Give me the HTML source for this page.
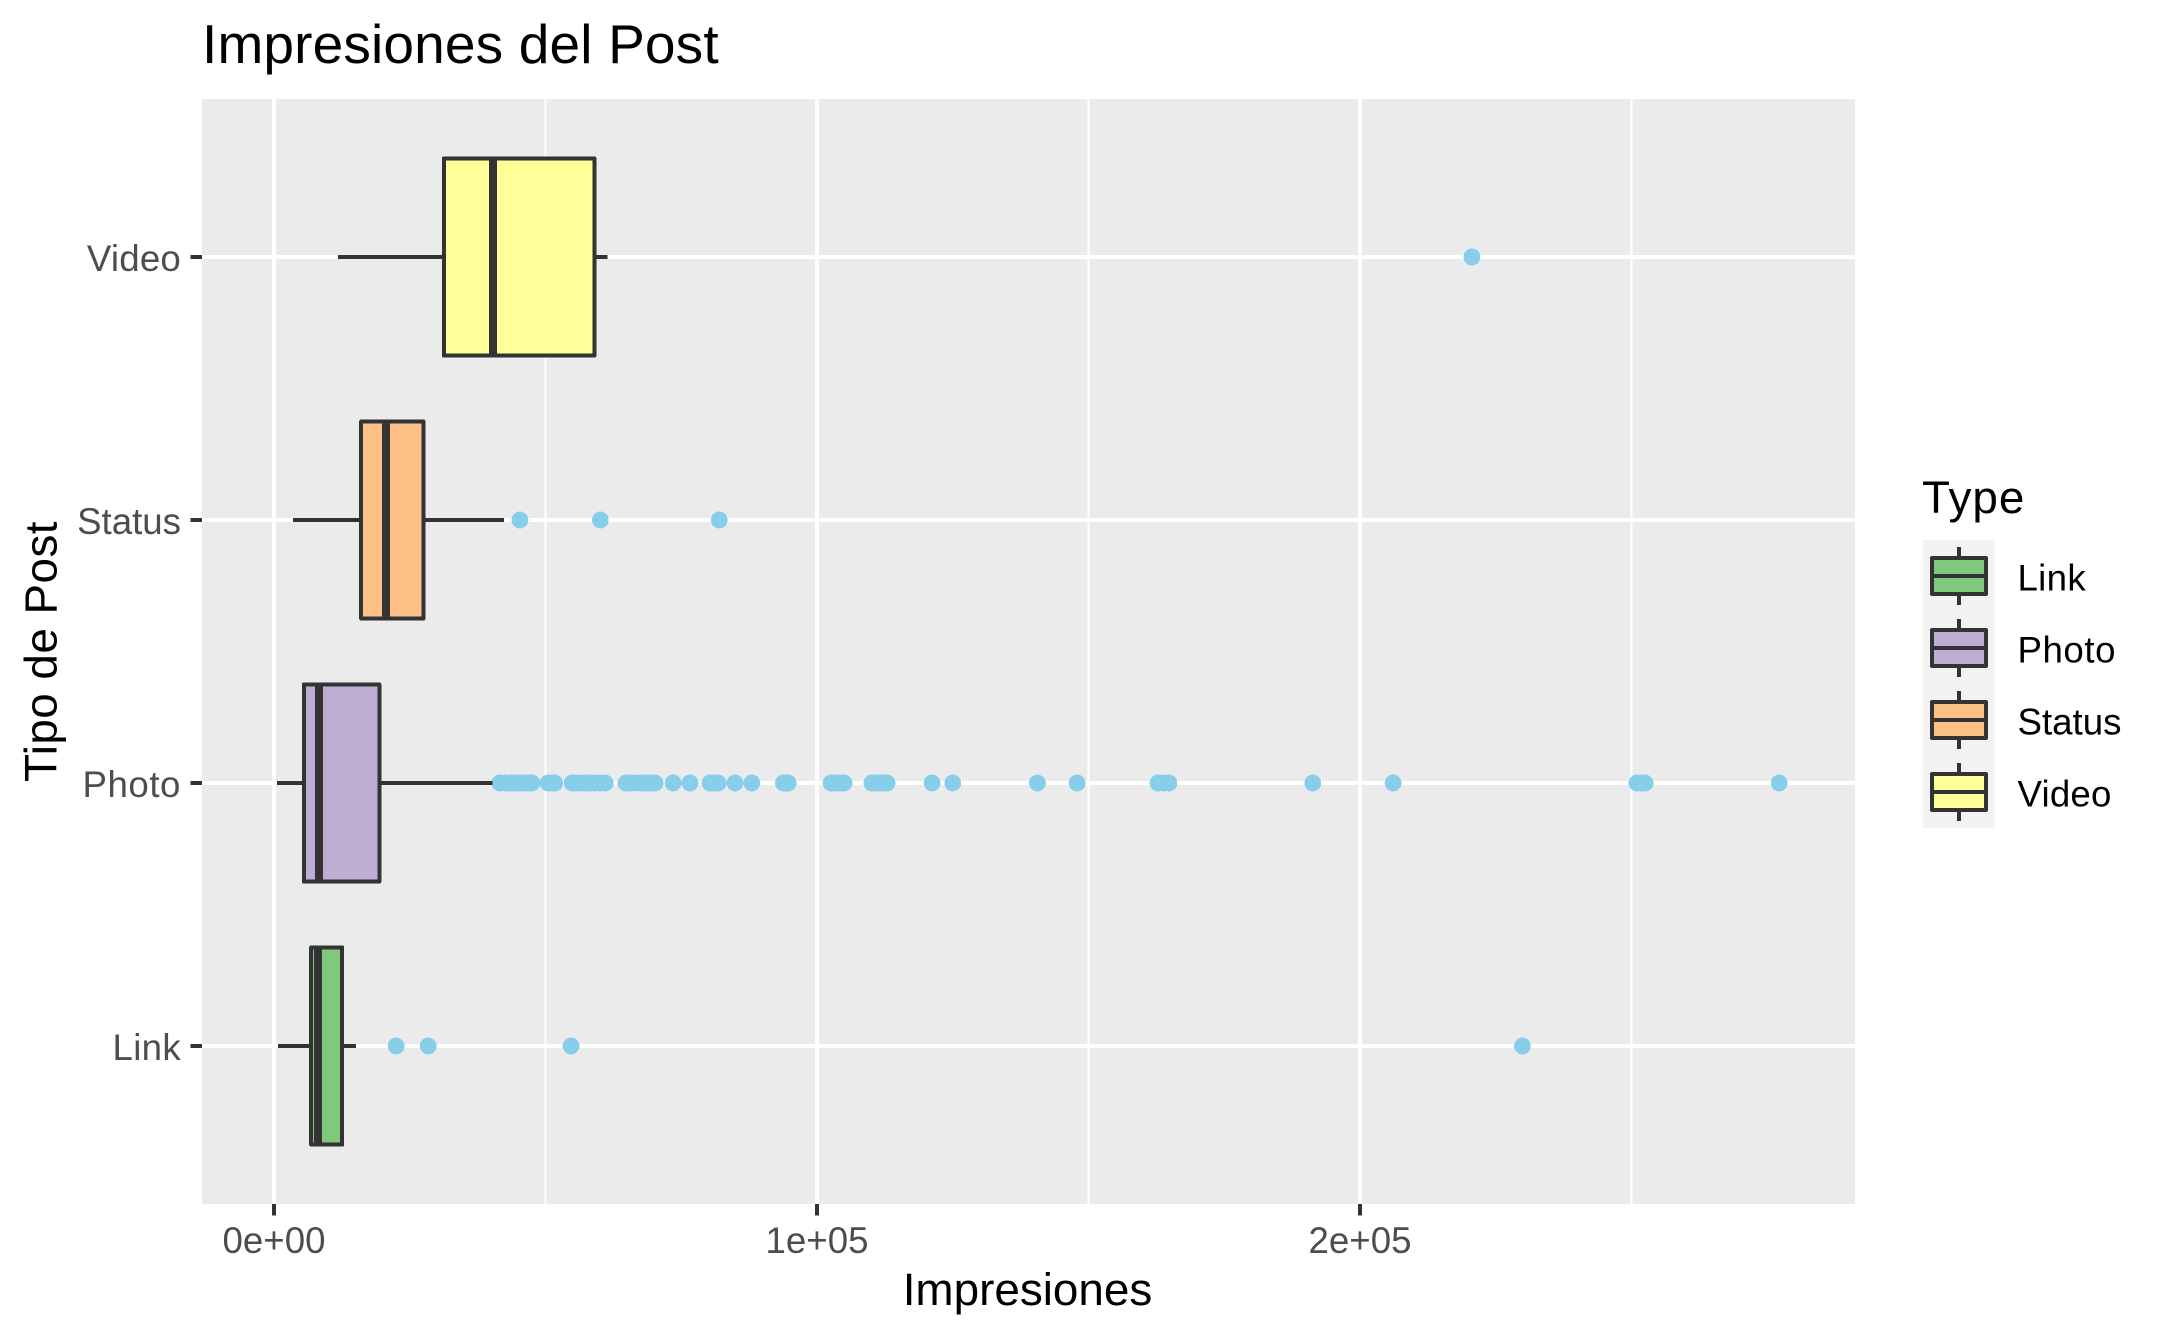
<!DOCTYPE html>
<html lang="es">
<head>
<meta charset="utf-8">
<title>Impresiones del Post</title>
<style>
html,body{margin:0;padding:0;background:#fff;width:2168px;height:1337px;overflow:hidden}
svg{display:block}
text{font-family:"Liberation Sans",Arial,sans-serif}
.crisp{shape-rendering:crispEdges}
</style>
</head>
<body>
<svg id="chart" xmlns="http://www.w3.org/2000/svg" width="2168" height="1337" viewBox="0 0 2168 1337">
  <rect x="0" y="0" width="2168" height="1337" fill="#ffffff"/>
  <text x="202" y="63" font-size="55" letter-spacing="0.16" fill="#000000">Impresiones del Post</text>
  <rect class="crisp" x="202" y="99" width="1653" height="1105" fill="#EBEBEB"/>
  <g id="grid" class="crisp"></g>
  <g id="series"></g>
  <g id="axes"></g>
  <text x="1027.5" y="1305" font-size="45.83" fill="#000000" text-anchor="middle">Impresiones</text>
  <text x="0" y="0" transform="translate(56.5 651.5) rotate(-90)" font-size="45.83" letter-spacing="0.45" fill="#000000" text-anchor="middle">Tipo de Post</text>
  <g id="legend">
    <text x="1922" y="513" font-size="45.83" letter-spacing="1" fill="#000000">Type</text>
  </g>
</svg>
<script>
var categories = ['Link', 'Photo', 'Status', 'Video'];
var whiskerLow = [770, 550, 3500, 11800];
var quartile1 = [6850, 5490, 16060, 31300];
var medians = [8140, 8300, 20660, 40350];
var quartile3 = [12560, 19400, 27500, 59000];
var whiskerHigh = [15140, 40200, 42400, 61400];
var outliersLink = [22500, 28400, 54700, 229900];
var outliersPhoto = [41600, 42500, 43500, 44200, 45100, 46000, 46800, 47500, 50500, 51200, 51700, 54900, 55600, 56400, 57500, 58200, 59100, 60000, 61000, 64800, 65700, 66900, 67800, 68700, 69400, 70200, 73500, 76600, 80300, 81000, 81800, 84900, 88000, 93800, 94300, 94700, 102600, 103500, 104200, 105000, 110100, 110900, 111600, 112300, 112900, 121200, 125000, 140600, 147900, 162800, 163800, 164800, 191300, 206100, 251000, 251800, 252500, 277200];
var outliersStatus = [45300, 60100, 82000];
var outliersVideo = [220600];
var xMajorTicks = [0, 100000, 200000];
var xMinorTicks = [50000, 150000, 250000];
var xTickLabels = ['0e+00', '1e+05', '2e+05'];

var allOutliers = [outliersLink, outliersPhoto, outliersStatus, outliersVideo];
var boxFills = ['#7FC97F', '#BEAED4', '#FDC086', '#FFFF99'];
var labelTracking = [0.3, 0.55, 0, 0.2];

var NS = 'http://www.w3.org/2000/svg';
var INK = '#333333';
var BOX_HALF = 98.6;

function xScale(v) { return 274 + v / 100000 * 543; }
function yScale(i) { return 1046 - 263 * i; }

function make(parent, tag, props, text) {
  var el = document.createElementNS(NS, tag);
  for (var k in props) { el.setAttribute(k, props[k]); }
  if (text !== undefined) { el.textContent = text; }
  parent.appendChild(el);
  return el;
}

var grid = document.getElementById('grid');
var series = document.getElementById('series');
var axes = document.getElementById('axes');
var legend = document.getElementById('legend');

xMinorTicks.forEach(function (t) {
  var el = make(grid, 'line', { x1: xScale(t), x2: xScale(t), y1: 99, y2: 1204, stroke: '#ffffff', 'stroke-width': 2 });
  
  
});
xMajorTicks.forEach(function (t, i) {
  var el = make(grid, 'line', { x1: xScale(t), x2: xScale(t), y1: 99, y2: 1204, stroke: '#ffffff', 'stroke-width': 4 });
  
  

  var tick = make(axes, 'line', { x1: xScale(t), x2: xScale(t), y1: 1204, y2: 1215.5, stroke: INK, 'stroke-width': 4, 'class': 'crisp' });
  
  

  var label = make(axes, 'text', { x: xScale(t), y: 1253, 'font-size': 36.67, fill: '#4D4D4D', 'text-anchor': 'middle' }, xTickLabels[i]);
  
  
});

categories.forEach(function (name, i) {
  var y = yScale(i);

  var gl = make(grid, 'line', { x1: 202, x2: 1855, y1: y, y2: y, stroke: '#ffffff', 'stroke-width': 4 });
  
  

  var tick = make(axes, 'line', { x1: 190.5, x2: 202, y1: y, y2: y, stroke: INK, 'stroke-width': 4, 'class': 'crisp' });
  
  

  var label = make(axes, 'text', { x: 181, y: y + 14, 'font-size': 36.67, 'letter-spacing': labelTracking[i], fill: '#4D4D4D', 'text-anchor': 'end' }, name);
  
  

  allOutliers[i].forEach(function (v) {
    var dot = make(series, 'circle', { cx: xScale(v), cy: y, r: 8.4, fill: '#87CEEB', 'class': 'crisp' });
    
    
  });

  var wl = make(series, 'line', { x1: xScale(whiskerLow[i]), x2: xScale(quartile1[i]), y1: y, y2: y, stroke: INK, 'stroke-width': 4, 'class': 'crisp' });
  
  

  var wh = make(series, 'line', { x1: xScale(quartile3[i]), x2: xScale(whiskerHigh[i]), y1: y, y2: y, stroke: INK, 'stroke-width': 4, 'class': 'crisp' });
  
  

  var box = make(series, 'rect', { x: xScale(quartile1[i]), y: y - BOX_HALF, width: xScale(quartile3[i]) - xScale(quartile1[i]), height: BOX_HALF * 2, fill: boxFills[i], stroke: INK, 'stroke-width': 4, 'stroke-linejoin': 'round', 'class': 'crisp' });
  
  

  var med = make(series, 'line', { x1: xScale(medians[i]), x2: xScale(medians[i]), y1: y - BOX_HALF, y2: y + BOX_HALF, stroke: INK, 'stroke-width': 8, 'class': 'crisp' });
  
  

  var keyY = 540 + 72 * i;
  var key = make(legend, 'rect', { x: 1923, y: keyY, width: 72, height: 72, fill: '#F2F2F2', 'class': 'crisp' });
  
  

  var kw = make(legend, 'line', { x1: 1959, x2: 1959, y1: keyY + 7, y2: keyY + 65, stroke: INK, 'stroke-width': 4, 'class': 'crisp' });
  
  

  var kb = make(legend, 'rect', { x: 1932, y: keyY + 18, width: 54, height: 36, fill: boxFills[i], stroke: INK, 'stroke-width': 4, 'stroke-linejoin': 'round', 'class': 'crisp' });
  
  

  var km = make(legend, 'line', { x1: 1932, x2: 1986, y1: keyY + 36, y2: keyY + 36, stroke: INK, 'stroke-width': 4, 'class': 'crisp' });
  
  

  var kt = make(legend, 'text', { x: 2017.5, y: keyY + 50.5, 'font-size': 36.67, 'letter-spacing': labelTracking[i], fill: '#000000' }, name);
  
  
});
</script>
</body>
</html>
